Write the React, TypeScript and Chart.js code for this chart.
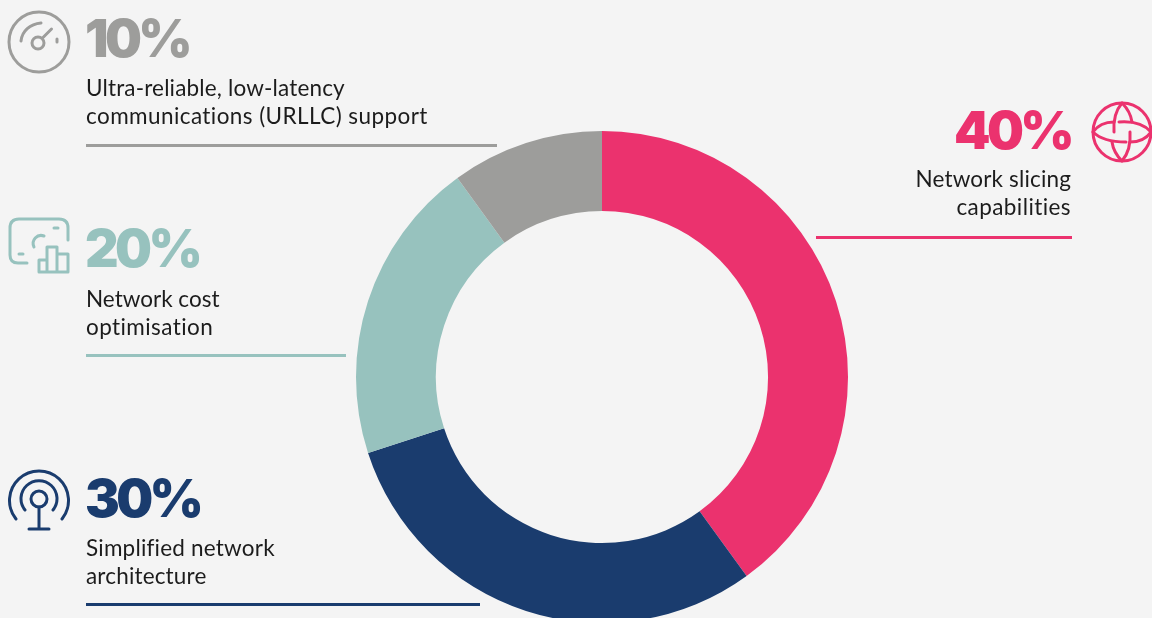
import React, { useEffect, useRef } from "react";
import { Chart, registerables } from "chart.js";

Chart.register(...registerables);

const categories = ["Network slicing capabilities", "Simplified network architecture", "Network cost optimisation", "Ultra-reliable, low-latency communications (URLLC) support"];
const values = [40, 30, 20, 10];
const colors = ["#EB326E", "#1A3C6E", "#97C2BE", "#9D9D9B"];
const TEXT = "#1c1c1c";
const BODY = "Lato, sans-serif";
const HEAD = "Inter, sans-serif";

function Pct({ text, color, x, y, right }: { text: string; color: string; x: number; y: number; right?: boolean }) {
  const style: React.CSSProperties = { position: "absolute", top: y, color, font: `900 52px/60px ${HEAD}`, whiteSpace: "nowrap", letterSpacing: "-3.6px" };
  if (right) style.right = x; else style.left = x;
  return <div style={style}>{text}</div>;
}

function Lines({ lines, spacing, x, y, right }: { lines: string[]; spacing: number[]; x: number; y: number; right?: boolean }) {
  const style: React.CSSProperties = { position: "absolute", top: y, color: TEXT, font: `400 22.5px/28px ${BODY}`, fontVariantLigatures: "none", whiteSpace: "nowrap", textAlign: right ? "right" : "left" };
  if (right) style.right = x; else style.left = x;
  return <div style={style}>{lines.map((l, i) => <div key={l} style={{ letterSpacing: spacing[i] }}>{l}</div>)}</div>;
}

function Rule({ x, y, w, color }: { x: number; y: number; w: number; color: string }) {
  return <div style={{ position: "absolute", left: x, top: y, width: w, height: 3, background: color }} />;
}

function Icons() {
  const common = { fill: "none", strokeWidth: 3, strokeLinecap: "round" as const, strokeLinejoin: "round" as const };
  return (
    <svg width={1152} height={618} style={{ position: "absolute", left: 0, top: 0 }}>
      <g {...common} stroke={colors[3]}>
        <circle cx={39} cy={42} r={30} />
        <circle cx={38} cy={43} r={6} />
        <path d="M42.5 38 L51.5 29 M57 39 L57 42 M21 41 C22 31 30 24 41 23" />
      </g>
      <g {...common} stroke={colors[2]}>
        <path d="M27 263 H18 Q10 263 10 255 V228 Q10 219 19 219 H59 Q68 219 68 228 V240" />
        <path d="M54 228 H58 M19 254 H23 M44 236 A8 8 0 0 0 34 247" />
        <path d="M39 272 V260 H47 V272 M47 272 V247 H57 V272 M57 272 V254 H68 V272 H39" />
      </g>
      <g {...common} stroke={colors[1]}>
        <circle cx={39} cy={499} r={8} />
        <path d="M39 507 V529 M29 529 H49" />
        <path d="M25 510 A18 18 0 1 1 53 510" />
        <path d="M16 519 A29.5 29.5 0 1 1 62 519" />
      </g>
      <g {...common} stroke={colors[0]} transform="translate(1122 132)">
        <circle cx={0} cy={0} r={29} />
        <path d="M-29 0 C-24 -7 -16 -10 -8 -10 M-29 0 C-22 7 -10 10 4 10 M-3 -10 C10 -11 22 -8 29 0 M29 0 C24 7 16 10 8 10" />
        <path d="M-8 0 C-9 -14 -6 -22 0 -29 M0 -29 C5 -24 9 -17 10 -10 M8 0 C9 14 6 22 0 29 M0 29 C-5 24 -9 17 -10 10" />
      </g>
    </svg>
  );
}

export default function App() {
  const ref = useRef<HTMLCanvasElement>(null);
  useEffect(() => {
    const chart = new Chart(ref.current!, {
      type: "doughnut",
      data: { labels: categories, datasets: [{ data: values, backgroundColor: colors, borderWidth: 0 }] },
      options: {
        animation: false,
        responsive: false,
        cutout: "67.5%",
        layout: { padding: 0 },
        plugins: { legend: { display: false }, tooltip: { enabled: false } },
      },
    });
    return () => chart.destroy();
  }, []);
  return (
    <div style={{ position: "fixed", left: 0, top: 0, width: 1152, height: 618, overflow: "hidden", background: "#F4F4F4", fontFamily: BODY }}>
      <canvas ref={ref} width={492} height={492} style={{ position: "absolute", left: 356, top: 131, width: 492, height: 492 }} />
      <Icons />
      <Pct text="10%" color={colors[3]} x={85} y={9} />
      <Lines lines={["Ultra-reliable, low-latency", "communications (URLLC) support"]} spacing={[0.16, 0.42]} x={86} y={74} />
      <Rule x={86} y={144} w={411} color={colors[3]} />
      <Pct text="20%" color={colors[2]} x={85} y={219} />
      <Lines lines={["Network cost", "optimisation"]} spacing={[0, 0.42]} x={86} y={285} />
      <Rule x={86} y={354} w={260} color={colors[2]} />
      <Pct text="30%" color={colors[1]} x={85} y={469} />
      <Lines lines={["Simplified network", "architecture"]} spacing={[0.2, 0.17]} x={86} y={534} />
      <Rule x={86} y={603} w={394} color={colors[1]} />
      <Pct text="40%" color={colors[0]} x={81} y={101} right />
      <Lines lines={["Network slicing", "capabilities"]} spacing={[0.15, 0.42]} x={81} y={165} right />
      <Rule x={816} y={236} w={256} color={colors[0]} />
    </div>
  );
}
